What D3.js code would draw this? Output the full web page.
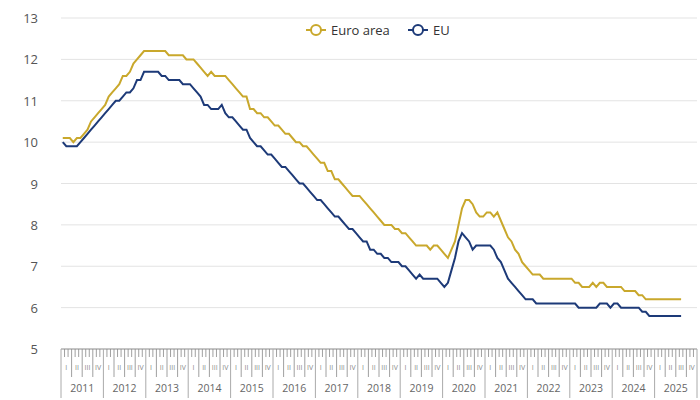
<!DOCTYPE html><html><head><meta charset="utf-8">
<script src="https://cdn.jsdelivr.net/npm/d3@7"></script>
<style>body{margin:0;background:#fff}svg{font-family:"Open Sans",sans-serif}</style></head><body>
<svg id="c" width="700" height="400"></svg>
<script>
const years=[2011,2012,2013,2014,2015,2016,2017,2018,2019,2020,2021,2022,2023,2024,2025];
const quarters=["I","II","III","IV"];
const yTicks=[5,6,7,8,9,10,11,12,13];
const euroArea=[
10.1,10.1,10.1,10.0,10.1,10.1,10.2,10.3,10.5,10.6,10.7,10.8,
10.9,11.1,11.2,11.3,11.4,11.6,11.6,11.7,11.9,12.0,12.1,12.2,
12.2,12.2,12.2,12.2,12.2,12.2,12.1,12.1,12.1,12.1,12.1,12.0,
12.0,12.0,11.9,11.8,11.7,11.6,11.7,11.6,11.6,11.6,11.6,11.5,
11.4,11.3,11.2,11.1,11.1,10.8,10.8,10.7,10.7,10.6,10.6,10.5,
10.4,10.4,10.3,10.2,10.2,10.1,10.0,10.0,9.9,9.9,9.8,9.7,
9.6,9.5,9.5,9.3,9.3,9.1,9.1,9.0,8.9,8.8,8.7,8.7,
8.7,8.6,8.5,8.4,8.3,8.2,8.1,8.0,8.0,8.0,7.9,7.9,
7.8,7.8,7.7,7.6,7.5,7.5,7.5,7.5,7.4,7.5,7.5,7.4,
7.3,7.2,7.4,7.6,8.0,8.4,8.6,8.6,8.5,8.3,8.2,8.2,
8.3,8.3,8.2,8.3,8.1,7.9,7.7,7.6,7.4,7.3,7.1,7.0,
6.9,6.8,6.8,6.8,6.7,6.7,6.7,6.7,6.7,6.7,6.7,6.7,
6.7,6.6,6.6,6.5,6.5,6.5,6.6,6.5,6.6,6.6,6.5,6.5,
6.5,6.5,6.5,6.4,6.4,6.4,6.4,6.3,6.3,6.2,6.2,6.2,
6.2,6.2,6.2,6.2,6.2,6.2,6.2,6.2];
const eu=[
10.0,9.9,9.9,9.9,9.9,10.0,10.1,10.2,10.3,10.4,10.5,10.6,
10.7,10.8,10.9,11.0,11.0,11.1,11.2,11.2,11.3,11.5,11.5,11.7,
11.7,11.7,11.7,11.7,11.6,11.6,11.5,11.5,11.5,11.5,11.4,11.4,
11.4,11.3,11.2,11.1,10.9,10.9,10.8,10.8,10.8,10.9,10.7,10.6,
10.6,10.5,10.4,10.3,10.3,10.1,10.0,9.9,9.9,9.8,9.7,9.7,
9.6,9.5,9.4,9.4,9.3,9.2,9.1,9.0,9.0,8.9,8.8,8.7,
8.6,8.6,8.5,8.4,8.3,8.2,8.2,8.1,8.0,7.9,7.9,7.8,
7.7,7.6,7.6,7.4,7.4,7.3,7.3,7.2,7.2,7.1,7.1,7.1,
7.0,7.0,6.9,6.8,6.7,6.8,6.7,6.7,6.7,6.7,6.7,6.6,
6.5,6.6,6.9,7.2,7.6,7.8,7.7,7.6,7.4,7.5,7.5,7.5,
7.5,7.5,7.4,7.2,7.1,6.9,6.7,6.6,6.5,6.4,6.3,6.2,
6.2,6.2,6.1,6.1,6.1,6.1,6.1,6.1,6.1,6.1,6.1,6.1,
6.1,6.1,6.0,6.0,6.0,6.0,6.0,6.0,6.1,6.1,6.1,6.0,
6.1,6.1,6.0,6.0,6.0,6.0,6.0,6.0,5.9,5.9,5.8,5.8,
5.8,5.8,5.8,5.8,5.8,5.8,5.8,5.8];
const series=[{name:"Euro area",values:euroArea,color:"#c9a82c"},{name:"EU",values:eu,color:"#1d3a78"}];

const svg=d3.select("#c");
const L=61,R=697,T=18,B=349;
const nM=years.length*12;
const x=d3.scaleLinear().domain([0,nM]).range([L,R]);
const y=d3.scaleLinear().domain([5,13]).range([B,T]);

svg.append("g").selectAll("line").data(yTicks).join("line")
 .attr("x1",L).attr("x2",R).attr("y1",d=>y(d)).attr("y2",d=>y(d))
 .attr("stroke","#e3e3e3");
svg.append("g").selectAll("text").data(yTicks).join("text")
 .attr("x",38).attr("y",d=>y(d)+5).attr("text-anchor","end")
 .attr("font-size",13).attr("fill","#555").text(d=>d);

// x axis
const ax=svg.append("g");
ax.append("line").attr("x1",L).attr("x2",R).attr("y1",B).attr("y2",B).attr("stroke","#999");
const months=d3.range(nM+1);
ax.selectAll("line.m").data(months).join("line").attr("class","m")
 .attr("x1",d=>x(d)).attr("x2",d=>x(d)).attr("y1",B)
 .attr("y2",d=>d%12===0?398:d%3===0?377:357)
 .attr("stroke",d=>d%12===0?"#aaa":"#888").attr("stroke-width",d=>d%12===0?1:0.8);
const qs=d3.range(years.length*4);
ax.selectAll("text.q").data(qs).join("text").attr("class","q")
 .attr("x",d=>x(d*3+1.5)).attr("y",370).attr("text-anchor","middle")
 .attr("font-size",7).attr("fill","#888").text(d=>quarters[d%4]);
ax.selectAll("text.y").data(years).join("text").attr("class","y")
 .attr("x",(d,i)=>x(i*12+6)).attr("y",392).attr("text-anchor","middle")
 .attr("font-size",10.5).attr("fill","#666").text(d=>d);

const line=d3.line().x((d,i)=>x(i+0.5)).y(d=>y(d)).curve(d3.curveLinear);
series.forEach(s=>{
 svg.append("path").attr("d",line(s.values)).attr("fill","none")
  .attr("stroke",s.color).attr("stroke-width",2);
});

// legend
const lg=svg.append("g");
const lx=[306,408];
series.forEach((s,i)=>{
 const g=lg.append("g").attr("transform",`translate(${lx[i]},30)`);
 g.append("line").attr("x1",0).attr("x2",20).attr("stroke",s.color).attr("stroke-width",2);
 g.append("circle").attr("cx",10).attr("r",5).attr("fill","#fff").attr("stroke",s.color).attr("stroke-width",2);
 g.append("text").attr("x",25).attr("y",5).attr("font-size",13).attr("fill","#333").text(s.name);
});
</script></body></html>
